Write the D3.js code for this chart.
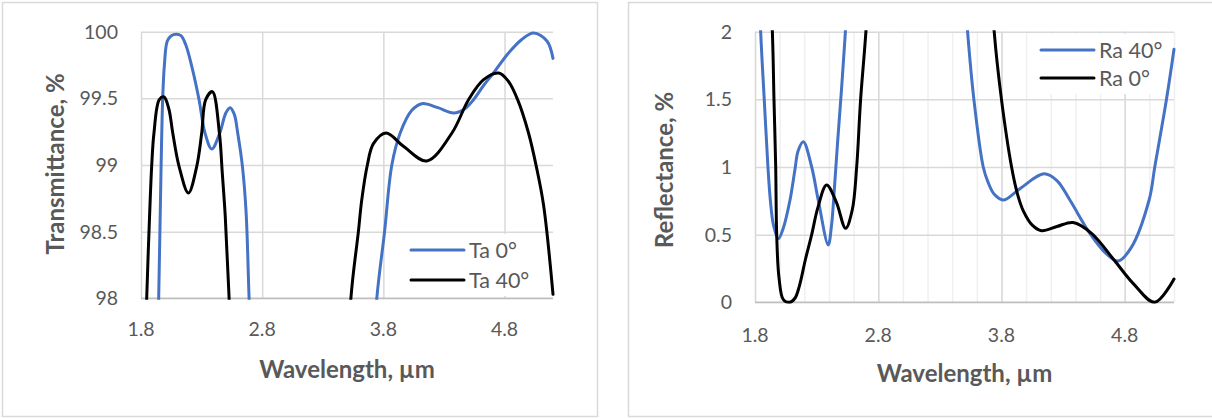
<!DOCTYPE html>
<html>
<head>
<meta charset="utf-8">
<script src="https://cdn.jsdelivr.net/npm/d3@7"></script>
<style>
  body { margin: 0; background: #fff; }
  svg { display: block; font-family: Lato, "Open Sans", sans-serif; }
  .grid line { stroke: #D9D9D9; stroke-width: 1.5; }
  .grid .domain { display: none; }
  .minor line { stroke: #F0F0F0; stroke-width: 1.5; }
  .minor .domain { display: none; }
  .tick-label { fill: #595959; font-size: 19.5px; }
  .title { fill: #595959; font-size: 24px; font-weight: bold; }
  .legend-text { fill: #595959; font-size: 21.5px; }
</style>
</head>
<body>
<script>
// wavelength ticks
var xTicks = [1.8, 2.8, 3.8, 4.8];

// transmittance, Ta 0°
var ta0Wl = [1.90, 1.946, 1.966, 1.979, 1.993, 2.017, 2.05, 2.09, 2.13, 2.17, 2.219, 2.279, 2.328, 2.384, 2.45, 2.50, 2.535, 2.57, 2.598, 2.637, 2.667, 2.692, 2.75, 3.0, 3.5, 3.70, 3.746, 3.81, 3.87, 3.939, 4.035, 4.118, 4.25, 4.379, 4.47, 4.544, 4.63, 4.709, 4.833, 4.94, 5.04, 5.15, 5.2];
var ta0Val = [96.0, 98.0, 99.0, 99.5, 99.75, 99.93, 99.97, 99.98, 99.97, 99.9, 99.74, 99.49, 99.24, 99.12, 99.24, 99.39, 99.43, 99.38, 99.24, 98.99, 98.65, 98.0, 96.5, 93, 93, 97.3, 98.0, 98.5, 99.0, 99.24, 99.41, 99.46, 99.43, 99.39, 99.42, 99.49, 99.6, 99.69, 99.84, 99.94, 99.99, 99.93, 99.8];

// transmittance, Ta 40°
var ta40Wl = [1.80, 1.847, 1.866, 1.888, 1.907, 1.951, 1.99, 2.03, 2.062, 2.114, 2.191, 2.26, 2.301, 2.334, 2.389, 2.447, 2.47, 2.495, 2.527, 2.56, 3.0, 3.45, 3.532, 3.594, 3.622, 3.668, 3.718, 3.823, 3.966, 4.159, 4.366, 4.503, 4.627, 4.751, 4.83, 4.908, 4.998, 5.062, 5.122, 5.2];
var ta40Val = [96.5, 98.0, 98.5, 98.99, 99.24, 99.49, 99.51, 99.42, 99.24, 98.99, 98.79, 98.99, 99.24, 99.49, 99.55, 99.24, 98.95, 98.62, 98.0, 97.2, 93, 96.5, 98.0, 98.5, 98.74, 99.0, 99.16, 99.24, 99.14, 99.03, 99.24, 99.49, 99.64, 99.69, 99.63, 99.49, 99.24, 98.99, 98.7, 98.03];

// reflectance, Ra 40°
var ra40Wl = [1.80, 1.846, 1.875, 1.905, 1.925, 1.95, 1.989, 2.03, 2.084, 2.124, 2.15, 2.192, 2.26, 2.313, 2.394, 2.42, 2.445, 2.47, 2.50, 2.53, 2.6, 3.0, 3.45, 3.525, 3.576, 3.652, 3.69, 3.74, 3.814, 3.95, 4.144, 4.25, 4.355, 4.517, 4.65, 4.747, 4.85, 4.998, 5.044, 5.139, 5.2];
var ra40Val = [3.2, 2.0, 1.5, 1.0, 0.75, 0.57, 0.47, 0.55, 0.756, 0.98, 1.12, 1.187, 1.0, 0.756, 0.424, 0.56, 0.85, 1.18, 1.55, 1.95, 3.0, 6, 3.0, 2.0, 1.5, 1.0, 0.89, 0.8, 0.756, 0.84, 0.95, 0.9, 0.756, 0.51, 0.36, 0.305, 0.40, 0.756, 1.0, 1.5, 1.87];

// reflectance, Ra 0°
var ra0Wl = [1.80, 1.941, 1.954, 1.968, 1.976, 1.995, 2.03, 2.08, 2.124, 2.16, 2.21, 2.26, 2.31, 2.381, 2.46, 2.535, 2.589, 2.625, 2.657, 2.70, 2.8, 3.2, 3.65, 3.741, 3.80, 3.882, 3.93, 3.98, 4.05, 4.125, 4.25, 4.381, 4.531, 4.72, 4.868, 5.044, 5.2];
var ra0Val = [5, 2.0, 1.5, 1.0, 0.5, 0.18, 0.02, 0.0, 0.03, 0.12, 0.32, 0.5, 0.7, 0.867, 0.74, 0.547, 0.682, 1.0, 1.5, 2.0, 3.5, 8, 3.5, 2.0, 1.5, 1.0, 0.8, 0.67, 0.57, 0.529, 0.56, 0.59, 0.51, 0.305, 0.14, 0.0, 0.172];

var taTicks = [98, 98.5, 99, 99.5, 100];
var raTicks = [0, 0.5, 1, 1.5, 2];

var svg = d3.select("body").append("svg")
    .attr("width", 1212)
    .attr("height", 418);

function zip(xs, ys) {
    return xs.map(function(x, i) { return [x, ys[i]]; });
}

function chart(opt) {
    var g = svg.append("g");

    // outer frame
    g.append("rect")
        .attr("x", opt.frame[0]).attr("y", opt.frame[1])
        .attr("width", opt.frame[2]).attr("height", opt.frame[3])
        .attr("fill", "#fff")
        .attr("stroke", "#D9D9D9")
        .attr("stroke-width", 1.5);

    var x = d3.scaleLinear().domain([1.8, 5.2]).range([opt.left, opt.right]);
    var y = d3.scaleLinear().domain(opt.yDomain).range([opt.bottom, opt.top]);
    var h = opt.bottom - opt.top;

    if (opt.minor) {
        g.append("g")
            .attr("class", "minor")
            .attr("transform", "translate(0," + opt.bottom + ")")
            .call(d3.axisBottom(x).tickValues(d3.range(0, 18).map(function(i) { return 1.8 + i * 0.2; }))
                .tickSize(-h).tickFormat(""));
    }

    g.append("g")
        .attr("class", "grid")
        .attr("transform", "translate(0," + opt.bottom + ")")
        .call(d3.axisBottom(x).tickValues(xTicks).tickSize(-h).tickFormat(""));

    g.append("g")
        .attr("class", "grid")
        .attr("transform", "translate(" + opt.left + ",0)")
        .call(d3.axisLeft(y).tickValues(opt.yTicks).tickSize(-(opt.right - opt.left)).tickFormat(""));

    // bottom axis line
    g.append("line")
        .attr("x1", opt.left).attr("x2", opt.right)
        .attr("y1", opt.bottom).attr("y2", opt.bottom)
        .attr("stroke", "#BFBFBF").attr("stroke-width", 1.5);

    // tick labels
    g.selectAll(".ylab").data(opt.yTicks).enter().append("text")
        .attr("class", "tick-label")
        .attr("x", opt.left - 23)
        .attr("y", function(d) { return y(d); })
        .attr("dy", "0.36em")
        .attr("text-anchor", "end")
        .text(function(d) { return d; });

    g.selectAll(".xlab").data(xTicks).enter().append("text")
        .attr("class", "tick-label")
        .attr("x", function(d) { return x(d); })
        .attr("y", opt.xLabY)
        .attr("text-anchor", "middle")
        .text(function(d) { return d3.format(".1f")(d); });

    // titles
    g.append("text")
        .attr("class", "title")
        .attr("x", (opt.left + opt.right) / 2)
        .attr("y", opt.xTitleY)
        .attr("text-anchor", "middle")
        .text("Wavelength, µm");

    g.append("text")
        .attr("class", "title")
        .attr("transform", "translate(" + opt.yTitle[0] + "," + opt.yTitle[1] + ") rotate(-90)")
        .attr("text-anchor", "middle")
        .attr("dy", "0.36em")
        .text(opt.yLabel);

    // series, clipped to the plot area
    var clipId = "clip" + opt.id;
    svg.append("clipPath").attr("id", clipId)
        .append("rect")
        .attr("x", opt.left - 2).attr("y", opt.top - 1.5)
        .attr("width", opt.right - opt.left + 4).attr("height", h + 3);

    var line = d3.line()
        .x(function(d) { return x(d[0]); })
        .y(function(d) { return y(d[1]); })
        .curve(d3.curveCatmullRom.alpha(0.5));

    g.append("g")
        .attr("clip-path", "url(#" + clipId + ")")
        .selectAll("path").data(opt.series).enter().append("path")
        .attr("d", function(s) { return line(s.points); })
        .attr("fill", "none")
        .attr("stroke", function(s) { return s.color; })
        .attr("stroke-width", 3)
        .attr("stroke-linejoin", "round")
        .attr("stroke-linecap", "round");

    // legend
    var lg = g.append("g");
    lg.append("rect")
        .attr("x", opt.legend.box[0]).attr("y", opt.legend.box[1])
        .attr("width", opt.legend.box[2]).attr("height", opt.legend.box[3])
        .attr("fill", "#fff");
    var items = lg.selectAll(".item").data(opt.series)
        .enter().append("g");
    items.append("line")
        .attr("x1", opt.legend.x).attr("x2", opt.legend.x + 53)
        .attr("y1", function(d, i) { return opt.legend.y + i * opt.legend.step; })
        .attr("y2", function(d, i) { return opt.legend.y + i * opt.legend.step; })
        .attr("stroke", function(d) { return d.color; })
        .attr("stroke-width", 3)
        .attr("stroke-linecap", "round");
    items.append("text")
        .attr("class", "legend-text")
        .attr("x", opt.legend.x + 58)
        .attr("y", function(d, i) { return opt.legend.y + i * opt.legend.step; })
        .attr("dy", "0.36em")
        .text(function(d) { return d.name; });
}

chart({
    id: "T",
    frame: [2.5, 2.5, 595, 414],
    left: 141, right: 553, top: 31.7, bottom: 298.3,
    yDomain: [98, 100], yTicks: taTicks,
    xLabY: 336, xTitleY: 378,
    yTitle: [55, 164], yLabel: "Transmittance, %",
    minor: false,
    series: [
        { name: "Ta 0°", color: "#4472C4", points: zip(ta0Wl, ta0Val) },
        { name: "Ta 40°", color: "#000000", points: zip(ta40Wl, ta40Val) }
    ],
    legend: { box: [405, 234, 126, 62], x: 411, y: 250, step: 30 }
});

chart({
    id: "R",
    frame: [628.5, 2.5, 590, 414],
    left: 755, right: 1174, top: 31.7, bottom: 302.3,
    yDomain: [0, 2], yTicks: raTicks,
    xLabY: 342, xTitleY: 382,
    yTitle: [664, 170], yLabel: "Reflectance, %",
    minor: true,
    series: [
        { name: "Ra 40°", color: "#4472C4", points: zip(ra40Wl, ra40Val) },
        { name: "Ra 0°", color: "#000000", points: zip(ra0Wl, ra0Val) }
    ],
    legend: { box: [1035, 34, 130, 60], x: 1041, y: 50, step: 28 }
});
</script>
</body>
</html>
